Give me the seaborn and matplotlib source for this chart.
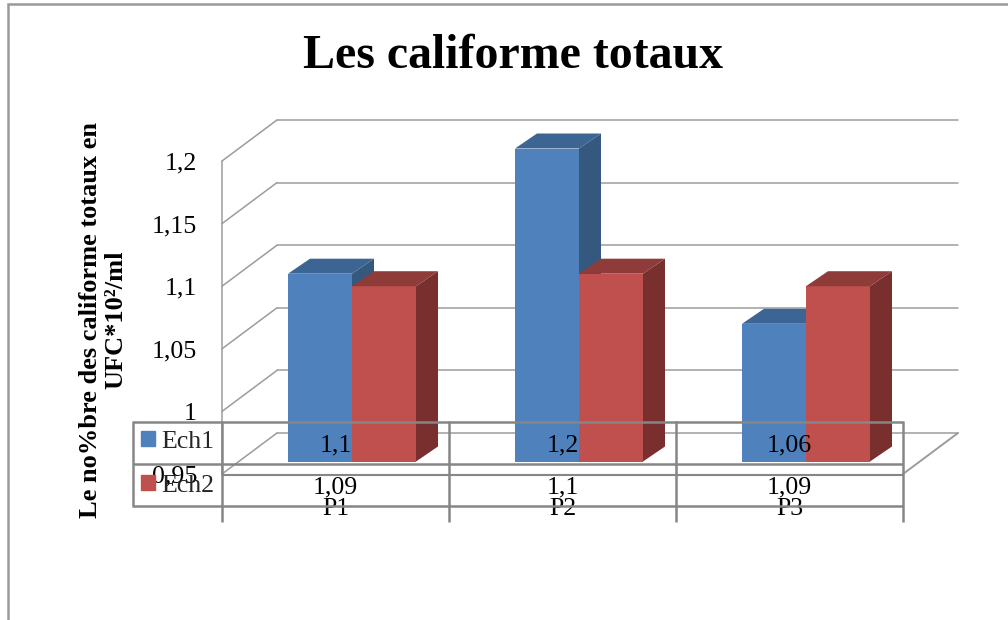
import matplotlib
matplotlib.use("Agg")
import matplotlib.pyplot as plt
from matplotlib.patches import Polygon, Patch
from matplotlib.lines import Line2D
from matplotlib.transforms import Affine2D
import pandas as pd
import seaborn as sns

categories = ["P1", "P2", "P3"]
ech1 = [1.1, 1.2, 1.06]
ech2 = [1.09, 1.1, 1.09]
ech1_labels = ["1,1", "1,2", "1,06"]
ech2_labels = ["1,09", "1,1", "1,09"]
y_ticks = [0.95, 1.0, 1.05, 1.1, 1.15, 1.2]
y_tick_labels = ["0,95", "1", "1,05", "1,1", "1,15", "1,2"]

W, H = 1008, 620
FRONT = "#4F81BD", "#C0504D"
TOP = "#3D6593", "#8E3B39"
SIDE = "#35587F", "#782F2E"
GRID = "#9C9C9C"
TABLE = "#868686"
TEXT_SIZE = 18.6

sns.set_theme(style="white")
plt.rcParams["font.family"] = ["Liberation Serif", "DejaVu Serif"]

df = pd.DataFrame({
    "cat": categories * 2,
    "serie": ["Ech1"] * 3 + ["Ech2"] * 3,
    "val": ech1 + ech2,
})

fig = plt.figure(figsize=(W / 100, H / 100), dpi=100, facecolor="white")
ax = fig.add_axes([222 / W, 1 - 474 / H, 681 / W, 313 / H])
sns.barplot(data=df, x="cat", y="val", hue="serie", order=categories,
            palette=list(FRONT), width=128 / 227, gap=0, saturation=1,
            linewidth=0, legend=False, ax=ax)
ax.set_xlim(-0.5, 2.5)
ax.set_ylim(0.95, 1.2)
ax.set_facecolor("none")
sns.despine(ax=ax, left=True, bottom=True)

# Oblique projection: the wall sits behind the floor, the bars halfway in between.
wall = ax.transData + Affine2D().translate(55, 41)
bar_plane = ax.transData + Affine2D().translate(16.5, 12.5)
depth_x, depth_y = 22 / 227, 15 / 1252

for t in y_ticks:
    ax.plot([-0.5, 2.5], [t, t], transform=wall, color=GRID, lw=1.1,
            clip_on=False, zorder=1)
    ax.add_line(Line2D([222, 277], [H - 474 + (t - 0.95) * 1252, H - 433 + (t - 0.95) * 1252],
                       transform=None, color=GRID, lw=1.1, zorder=1, clip_on=False))
ax.add_line(Line2D([903, 958], [H - 474, H - 433], transform=None, color=GRID,
                   lw=1.4, zorder=1, clip_on=False))
ax.plot([-0.5, -0.5], [0.95, 1.2], color=GRID, lw=1.1, zorder=1, clip_on=False)

# Each bar gets its top and side faces, painted series by series.
for s, container in enumerate(ax.containers):
    for bar, v in zip(container, (ech1, ech2)[s]):
        x0, x1 = bar.get_x(), bar.get_x() + bar.get_width()
        bar.set_y(0.95)
        bar.set_height(v - 0.95)
        bar.set_transform(bar_plane)
        bar.set_clip_on(False)
        bar.set_zorder(3 + s)
        side = Polygon([(x1, 0.95), (x1 + depth_x, 0.95 + depth_y),
                        (x1 + depth_x, v + depth_y), (x1, v)],
                       closed=True, facecolor=SIDE[s], edgecolor="none",
                       transform=bar_plane, clip_on=False, zorder=3 + s)
        top = Polygon([(x0, v), (x0 + depth_x, v + depth_y),
                       (x1 + depth_x, v + depth_y), (x1, v)],
                      closed=True, facecolor=TOP[s], edgecolor="none",
                      transform=bar_plane, clip_on=False, zorder=3 + s)
        ax.add_patch(side)
        ax.add_patch(top)

ax.set_xticks(range(3), categories)
ax.set_yticks(y_ticks, y_tick_labels)
ax.tick_params(axis="both", length=0, labelsize=TEXT_SIZE, labelcolor="black")
ax.tick_params(axis="y", pad=18)
ax.tick_params(axis="x", pad=17.5)
ax.set_xlabel("")
ax.set_ylabel("Le no%bre des califorme totaux en\nUFC*10²/ml", fontsize=19,
              fontweight="bold", color="black", va="center", ha="center",
              linespacing=1.15)
ax.yaxis.set_label_coords(-0.174, 0.492)

# Value rows of the table under the plot.
for i, (a, b) in enumerate(zip(ech1_labels, ech2_labels)):
    ax.annotate(a, (i, 0.95), xytext=(0, 29), textcoords="offset pixels", ha="center",
                va="center", fontsize=TEXT_SIZE, color="black", zorder=6, annotation_clip=False)
    ax.annotate(b, (i, 0.95), xytext=(0, -13), textcoords="offset pixels", ha="center",
                va="center", fontsize=TEXT_SIZE, color="black", zorder=6, annotation_clip=False)

ax.legend(handles=[Patch(color=FRONT[0], label="Ech1"), Patch(color=FRONT[1], label="Ech2")],
          loc="upper left", bbox_to_anchor=(133 / W, 1 - 423 / H),
          bbox_transform=fig.transFigure, frameon=False, fontsize=TEXT_SIZE, handlelength=0.56,
          handleheight=0.56, handletextpad=0.25, labelspacing=0.85, borderpad=0.3,
          borderaxespad=0)

# Table grid and outer chart border, laid out in pixels on a full-figure layer.
frame = fig.add_axes([0, 0, 1, 1], zorder=5)
frame.set_xlim(0, W)
frame.set_ylim(H, 0)
frame.axis("off")
frame.patch.set_alpha(0)
for y in (422, 464, 506):
    frame.plot([133, 903], [y, y], color=TABLE, lw=1.8, solid_capstyle="butt")
frame.plot([222, 903], [474.5, 474.5], color=TABLE, lw=1.5, solid_capstyle="butt")
frame.plot([133, 133], [421, 507], color=TABLE, lw=1.8, solid_capstyle="butt")
for x in (222, 449, 676, 903):
    frame.plot([x, x], [421, 522], color=TABLE, lw=1.8, solid_capstyle="butt")
frame.plot([8, 8, W], [H, 4, 4], color="#9A9A9A", lw=1.8, solid_joinstyle="miter")

fig.text(513 / W, 1 - 56 / H, "Les califorme totaux", fontsize=34.5, fontweight="bold",
         ha="center", va="center", color="black")

fig.savefig("out.png", dpi=100)
